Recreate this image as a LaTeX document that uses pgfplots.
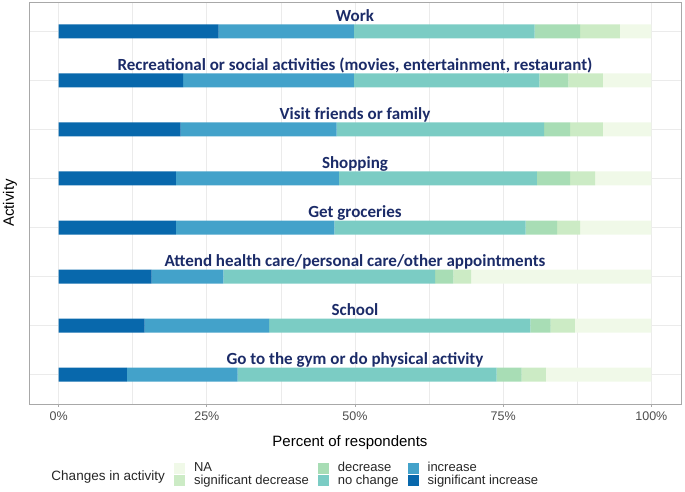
\documentclass[border=0pt]{standalone}
\usepackage{pgfplots}
\usepackage{pgfplotstable}
\pgfplotsset{compat=1.18}
\usepackage{fontspec}
\setmainfont{Liberation Sans}
\newfontfamily\carlito{Carlito}
\definecolor{cSI}{HTML}{0868AC}
\definecolor{cInc}{HTML}{43A2CA}
\definecolor{cNC}{HTML}{7BCCC4}
\definecolor{cDec}{HTML}{A8DDB5}
\definecolor{cSD}{HTML}{CCEBC5}
\definecolor{cNA}{HTML}{F0F9E8}
\definecolor{navy}{RGB}{27,43,104}
\definecolor{gridc}{HTML}{EBEBEB}
\definecolor{framec}{HTML}{A8A8A8}
\definecolor{tickc}{HTML}{4D4D4D}

\pgfplotstableread{
y si inc nc dec sd na
8 27.0 22.8 30.5 7.7 6.7 5.3
7 21.0 28.8 31.3 4.9 5.8 8.2
6 20.6 26.3 35.0 4.4 5.5 8.2
5 19.8 27.5 33.4 5.6 4.2 9.5
4 19.8 26.7 32.3 5.3 3.9 12.0
3 15.7 12.1 35.7 3.1 3.0 30.4
2 14.5 21.0 44.1 3.4 4.1 12.9
1 11.5 18.7 43.7 4.2 4.1 17.8
}\data

\begin{document}
\begin{tikzpicture}
\useasboundingbox (-29pt,-88pt) rectangle (656pt,404pt);
\begin{axis}[
  at={(0pt,0pt)}, anchor=south west,
  scale only axis,
  width=652pt, height=402pt,
  xmin=-5, xmax=105, ymin=0.4, ymax=8.6,
  xbar stacked, bar width=14pt,
  xtick={0,25,50,75,100},
  xticklabels={0\%,25\%,50\%,75\%,100\%},
  minor x tick num=1,
  ytick={1,...,8},
  yticklabels={},
  xtick pos=lower, ytick pos=left,
  tick align=outside,
  major tick length=3pt, minor tick length=0pt,
  ytick style={draw=none},
  xtick style={color=framec, line width=0.8pt},
  xmajorgrids, xminorgrids, ymajorgrids,
  major grid style={color=gridc, line width=0.8pt},
  minor grid style={color=gridc, line width=0.5pt},
  axis line style={color=framec, line width=0.9pt},
  xticklabel style={font=\fontsize{12.5}{14}\selectfont, text=tickc, inner sep=0pt, anchor=north},
  xticklabel shift=5pt,
  xlabel={Percent of respondents},
  xlabel style={font=\fontsize{15}{17}\selectfont, at={(axis description cs:0.4923,-0.0970)}, anchor=center},
  ylabel={Activity},
  ylabel style={font=\fontsize{15}{17}\selectfont, at={(axis description cs:-0.0291,0.5)}, anchor=center},
  clip=false,
  legend columns=3,
  legend image code/.code={\fill[#1, draw=none] (0pt,-5.5pt) rectangle (11pt,5.5pt);},
  legend cell align=left,
  legend style={at={(axis description cs:0.2224,-0.1455)}, anchor=north west,
    draw=none, fill=none, inner sep=0pt, outer sep=0pt,
    column sep=9pt, row sep=0.5pt,
    font=\fontsize{13}{15}\selectfont, text=black!85,
    nodes={inner sep=0pt, text height=9.5pt, text depth=2.5pt}},
]
\addplot[fill=cSI, draw=none, forget plot] table[x=si, y=y]{\data};
\addplot[fill=cInc, draw=none, forget plot] table[x=inc, y=y]{\data};
\addplot[fill=cNC, draw=none, forget plot] table[x=nc, y=y]{\data};
\addplot[fill=cDec, draw=none, forget plot] table[x=dec, y=y]{\data};
\addplot[fill=cSD, draw=none, forget plot] table[x=sd, y=y]{\data};
\addplot[fill=cNA, draw=none, forget plot] table[x=na, y=y]{\data};

\addlegendimage{fill=cNA, draw=none}\addlegendentry{NA}
\addlegendimage{fill=cDec, draw=none}\addlegendentry{decrease}
\addlegendimage{fill=cInc, draw=none}\addlegendentry{increase}
\addlegendimage{fill=cSD, draw=none}\addlegendentry{significant decrease}
\addlegendimage{fill=cNC, draw=none}\addlegendentry{no change}
\addlegendimage{fill=cSI, draw=none}\addlegendentry{significant increase}

\tikzset{lab/.style={anchor=base, yshift=10pt, inner sep=0pt, text=navy, font=\carlito\bfseries\fontsize{17}{19}\selectfont}}
\node[lab] at (axis cs:50,8) {Work};
\node[lab] at (axis cs:50,7) {Recreational or social activities (movies, entertainment, restaurant)};
\node[lab] at (axis cs:50,6) {Visit friends or family};
\node[lab] at (axis cs:50,5) {Shopping};
\node[lab] at (axis cs:50,4) {Get groceries};
\node[lab] at (axis cs:50,3) {Attend health care/personal care/other appointments};
\node[lab] at (axis cs:50,2) {School};
\node[lab] at (axis cs:50,1) {Go to the gym or do physical activity};
\end{axis}
\node[anchor=east, inner sep=0pt, font=\fontsize{13.5}{15}\selectfont, text=black!85] at (136pt,-73pt) {Changes in activity};
\end{tikzpicture}
\end{document}
